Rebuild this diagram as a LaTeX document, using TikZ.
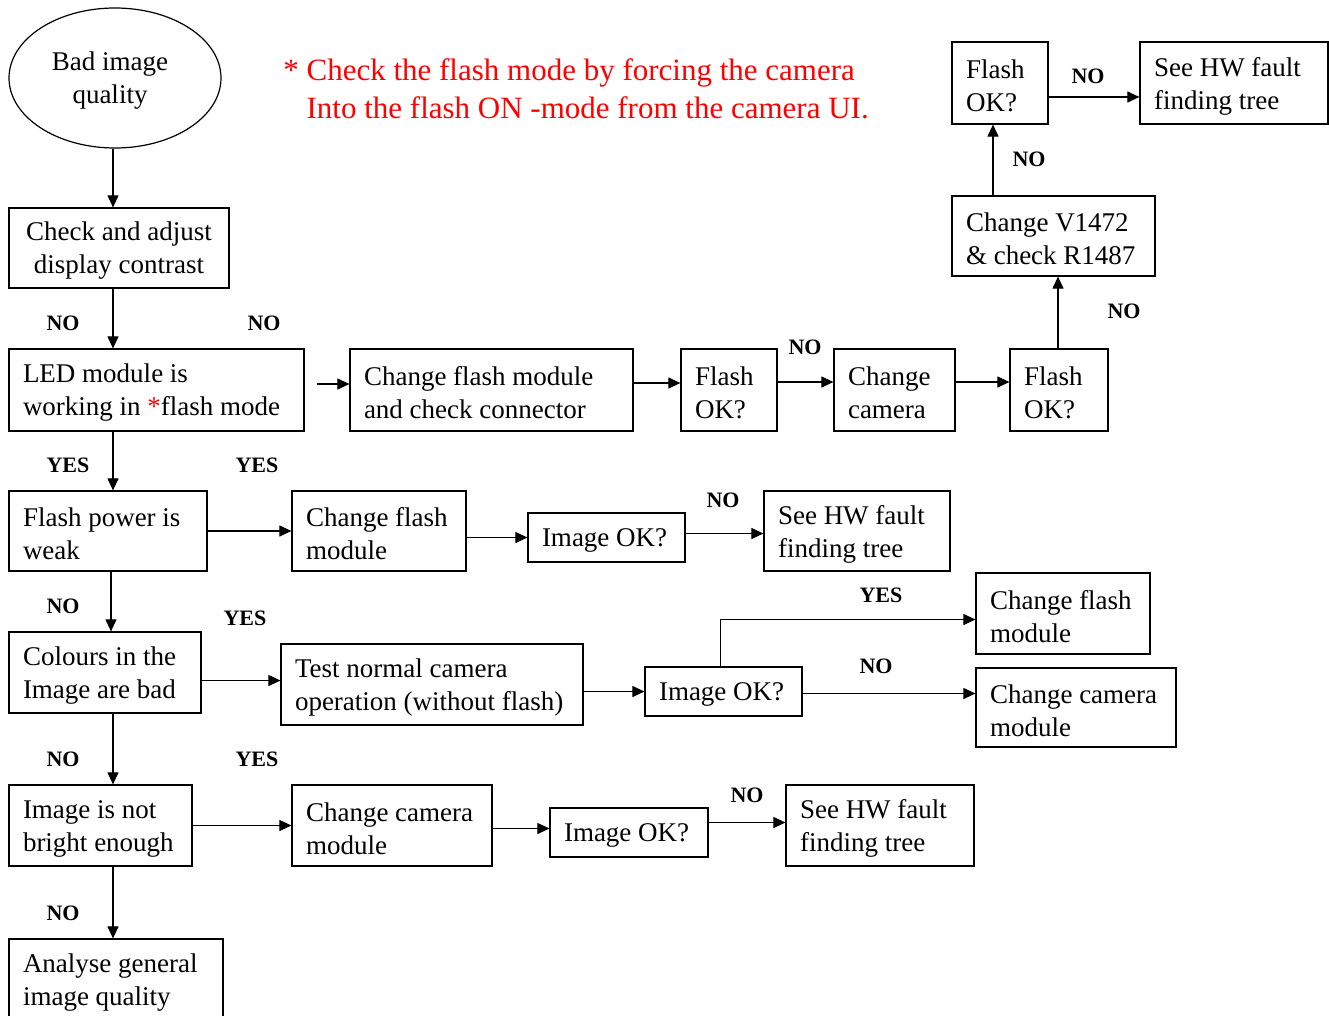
\documentclass[tikz,border=0pt]{standalone}
\usepackage{fontspec}
\setmainfont{Liberation Serif}
\usetikzlibrary{arrows.meta,shapes.geometric}
\begin{document}
\begin{tikzpicture}[x=1pt,y=-1pt,
  line width=1.2pt,
  boxst/.style={draw, rectangle, inner sep=0pt},
  txt/.style={inner sep=0pt, align=left, font=\fontsize{27}{33}\selectfont},
  lbl/.style={inner sep=0pt, font=\fontsize{22}{26}\selectfont\bfseries},
  note/.style={inner sep=0pt, align=left, text=red, font=\fontsize{31}{38}\selectfont},
  arr/.style={line width=1.1pt, -{Triangle[length=12pt,width=11pt]}},
]
\useasboundingbox[fill=white] (0,0) rectangle (1329,1015);

% box: name, left, top, right, bottom, text (left aligned, inset 14pt)
\newcommand\flowbox[6]{%
  \node[boxst, minimum width={(#4-#2)*1pt}, minimum height={(#5-#3)*1pt}] (#1) at ({(#2+#4)/2},{(#3+#5)/2}) {};
  \node[txt, anchor=west] (#1t) at ([xshift=14pt,yshift=-3pt]#1.west) {#6};
}

% start
\node[draw, ellipse, inner sep=0pt, minimum width=212pt, minimum height=140pt] (start) at (115,78) {};
\node[txt, align=center] (startt) at ([xshift=-5pt,yshift=-3pt]start.center) {Bad image\\quality};

% note
\node[note, anchor=west] (note) at (306,89) {\llap{*\ }Check the flash mode by forcing the camera\\Into the flash ON -mode from the camera UI.};

% left column
\node[boxst, minimum width=220pt, minimum height=80pt] (b1) at (119,248) {};
\node[txt, align=center] (b1t) at ([yshift=-3pt]b1.center) {Check and adjust\\display contrast};
\flowbox{b2}{9}{349}{304}{431}{LED module is\\working in {\color{red}*}flash mode}
\flowbox{b10}{9}{491}{207}{571}{Flash power is\\weak}
\flowbox{b14}{9}{632}{201}{713}{Colours in the\\Image are bad}
\flowbox{b19}{9}{785}{192}{866}{Image is not\\bright enough}
\flowbox{b23}{9}{939}{223}{1021}{Analyse general\\image quality}
\coordinate (spine) at (113,0);

% flash mode branch
\flowbox{b3}{350}{349}{633}{431}{Change flash module\\and check connector}
\flowbox{b4}{681}{349}{777}{431}{Flash\\OK?}
\flowbox{b5}{834}{349}{955}{431}{Change\\camera}
\flowbox{b6}{1010}{349}{1108}{431}{Flash\\OK?}
\flowbox{b7}{952}{196}{1155}{276}{Change V1472\\\& check R1487}
\flowbox{b8}{952}{42}{1048}{124}{Flash\\OK?}
\flowbox{b9}{1140}{42}{1328}{124}{See HW fault\\finding tree}

% flash power branch
\flowbox{b11}{292}{491}{466}{571}{Change flash\\module}
\flowbox{b12}{528}{513}{685}{562}{Image OK?}
\flowbox{b13}{764}{491}{950}{571}{See HW fault\\finding tree}

% colour branch
\flowbox{b15}{281}{644}{583}{725}{Test normal camera\\operation (without flash)}
\flowbox{b16}{645}{667}{802}{716}{Image OK?}
\flowbox{b17}{976}{573}{1150}{654}{Change flash\\module}
\flowbox{b18}{976}{668}{1176}{747}{Change camera\\module}

% brightness branch
\flowbox{b20}{292}{785}{492}{866}{Change camera\\module}
\flowbox{b21}{550}{808}{708}{857}{Image OK?}
\flowbox{b22}{786}{785}{974}{866}{See HW fault\\finding tree}

% main column connectors
\draw[arr] (start.south -| spine) -- (b1.north -| spine);
\draw[arr] (b1.south -| spine) -- (b2.north -| spine);
\draw[arr] (b2.south -| spine) -- (b10.north -| spine);
\draw[arr] ([xshift=-2pt]b10.south -| spine) -- ([xshift=-2pt]b14.north -| spine);
\draw[arr] (b14.south -| spine) -- (b19.north -| spine);
\draw[arr] (b19.south -| spine) -- (b23.north -| spine);

% flash mode connectors
\draw[arr] ([xshift=12pt,yshift=6pt]b2.east) -- ([yshift=6pt]b3.west);
\draw[arr] ([yshift=7pt]b3.east) -- ([yshift=7pt]b4.west);
\draw[arr] ([yshift=8pt]b4.east) -- ([yshift=8pt]b5.west);
\draw[arr] ([yshift=8pt]b5.east) -- ([yshift=8pt]b6.west);
\draw[arr] ([xshift=-1pt]b6.north) -- ([xshift=-1pt]b6.north |- b7.south);
\draw[arr] ([xshift=-7pt]b8.south |- b7.north) -- ([xshift=-7pt]b8.south);
\draw[arr] ([yshift=-14pt]b8.east) -- ([yshift=-14pt]b8.east -| b9.west);

% flash power connectors
\draw[arr] (b10.east) -- (b10.east -| b11.west);
\draw[arr] (b11.east |- b12.west) -- (b12.west);
\draw[arr] ([yshift=4pt]b12.east) -- ([yshift=4pt]b12.east -| b13.west);

% colour connectors
\draw[arr] ([yshift=-8pt]b14.east) -- ([yshift=-8pt]b14.east -| b15.west);
\draw[arr] (b15.east |- b16.west) -- (b16.west);
\draw[arr] ([xshift=-3pt]b16.north) |- ([yshift=-6pt]b17.west);
\draw[arr] ([yshift=-2pt]b16.east) -- ([yshift=-2pt]b16.east -| b18.west);

% brightness connectors
\draw[arr] (b19.east) -- (b19.east -| b20.west);
\draw[arr] ([yshift=-3pt]b20.east) -- ([yshift=-3pt]b20.east -| b21.west);
\draw[arr] ([yshift=10pt]b21.east) -- ([yshift=10pt]b21.east -| b22.west);

% branch labels
\node[lbl] (n1) at (63,323) {NO};
\node[lbl] (n2) at (264,323) {NO};
\node[lbl] (n3) at (805,347) {NO};
\node[lbl] (n4) at (1124,311) {NO};
\node[lbl] (n5) at (1029,159) {NO};
\node[lbl] (n6) at (1088,76) {NO};
\node[lbl] (y1) at (68,465) {YES};
\node[lbl] (y2) at (257,465) {YES};
\node[lbl] (n7) at (723,500) {NO};
\node[lbl] (n8) at (63,606) {NO};
\node[lbl] (y3) at (245,618) {YES};
\node[lbl] (y4) at (881,595) {YES};
\node[lbl] (n9) at (876,666) {NO};
\node[lbl] (n10) at (63,759) {NO};
\node[lbl] (y5) at (257,759) {YES};
\node[lbl] (n11) at (747,795) {NO};
\node[lbl] (n12) at (63,913) {NO};
\end{tikzpicture}
\end{document}
